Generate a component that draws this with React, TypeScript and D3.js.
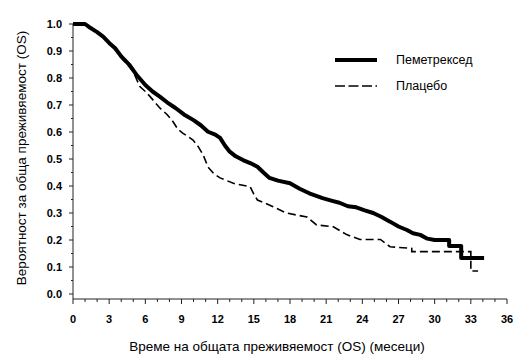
import React from "react"
import * as d3 from "d3"

const WIDTH = 517
const HEIGHT = 356

// axis ticks
const monthTicks = [0, 3, 6, 9, 12, 15, 18, 21, 24, 27, 30, 33, 36]
const survTicks = [0.0, 0.1, 0.2, 0.3, 0.4, 0.5, 0.6, 0.7, 0.8, 0.9, 1.0]

// Pemetrexed (solid), tail steps given explicitly
const pemTime = [0, 1.0, 1.3, 2.0, 2.5, 3.0, 3.5, 4.0, 4.7, 5.3, 6.0, 6.6, 7.2, 7.8, 8.5, 9.2, 10.0, 10.6, 11.2, 11.8, 12.2, 12.6, 13.0, 13.5, 14.1, 14.7, 15.3, 15.8, 16.3, 17.0, 18.0, 18.8, 19.6, 20.7, 21.5, 22.1, 22.8, 23.5, 24.2, 24.9, 25.6, 26.3, 27.0, 27.7, 28.2, 28.8, 29.4, 30.0, 31.2, 31.2, 32.2, 32.2, 34.1]
const pemSurv = [1.0, 1.0, 0.99, 0.97, 0.953, 0.93, 0.91, 0.88, 0.848, 0.81, 0.774, 0.75, 0.731, 0.71, 0.689, 0.665, 0.644, 0.625, 0.601, 0.59, 0.578, 0.55, 0.527, 0.51, 0.496, 0.485, 0.471, 0.45, 0.43, 0.42, 0.41, 0.39, 0.373, 0.355, 0.345, 0.338, 0.325, 0.321, 0.31, 0.3, 0.285, 0.268, 0.25, 0.237, 0.225, 0.219, 0.205, 0.2, 0.2, 0.178, 0.178, 0.133, 0.133]

// Placebo (dashed)
const plaTime = [0, 1.0, 1.3, 2.0, 2.5, 3.0, 3.5, 4.0, 4.7, 5.0, 5.55, 6.0, 6.4, 7.2, 7.8, 8.3, 8.7, 9.1, 9.96, 10.4, 10.8, 11.2, 11.7, 12.2, 13.3, 14.7, 15.0, 15.3, 16.0, 16.6, 17.7, 19.4, 20.2, 21.6, 22.7, 23.8, 25.5, 26.3, 28.1, 28.1, 33.0, 33.0, 33.6]
const plaSurv = [1.0, 1.0, 0.99, 0.97, 0.953, 0.93, 0.905, 0.875, 0.84, 0.823, 0.768, 0.75, 0.731, 0.689, 0.665, 0.638, 0.61, 0.596, 0.57, 0.545, 0.515, 0.47, 0.445, 0.43, 0.41, 0.397, 0.37, 0.348, 0.335, 0.323, 0.3, 0.285, 0.256, 0.249, 0.22, 0.202, 0.202, 0.175, 0.169, 0.157, 0.157, 0.085, 0.085]

const seriesNames = ["Пеметрексед", "Плацебо"]
const xTitle = "Време на общата преживяемост (OS) (месеци)"
const yTitle = "Вероятност за обща преживяемост (OS)"

const FONT = "'Liberation Sans', Arial, sans-serif"

export default function App() {
	const x = d3.scaleLinear().domain([0, 36]).range([73, 507])
	const y = d3.scaleLinear().domain([0, 1]).range([294, 24])
	const axisY = 299

	const line = d3
		.line<[number, number]>()
		.x((d) => x(d[0]))
		.y((d) => y(d[1]))
		.curve(d3.curveLinear)

	const pem = pemTime.map((t, i) => [t, pemSurv[i]] as [number, number])
	const pla = plaTime.map((t, i) => [t, plaSurv[i]] as [number, number])

	const minorMonths = d3.range(0, 37, 1)
	const minorSurv = d3.range(0, 1.0001, 0.05)

	return (
		<svg
			width={WIDTH}
			height={HEIGHT}
			style={{ position: "absolute", left: 0, top: 0, background: "#fff" }}
			fontFamily={FONT}
		>
			{/* y axis */}
			<line x1={x(0)} x2={x(0)} y1={y(1)} y2={axisY} stroke="#222" strokeWidth={1} />
			{minorSurv.map((v, i) => (
				<line key={"ym" + i} x1={x(0) - (i % 2 === 0 ? 4 : 2)} x2={x(0)} y1={y(v)} y2={y(v)} stroke="#222" strokeWidth={1} />
			))}
			{survTicks.map((v) => (
				<text key={"yl" + v} x={62} y={y(v)} dy="0.35em" textAnchor="end" fontSize={11} fontWeight="bold">
					{v.toFixed(1)}
				</text>
			))}

			{/* x axis */}
			<line x1={x(0)} x2={x(36)} y1={axisY} y2={axisY} stroke="#222" strokeWidth={1} />
			{minorMonths.map((m) => (
				<line key={"xm" + m} x1={x(m)} x2={x(m)} y1={axisY} y2={axisY + (m % 3 === 0 ? 5 : 3)} stroke="#222" strokeWidth={1} />
			))}
			{monthTicks.map((m) => (
				<text key={"xl" + m} x={x(m)} y={319} dy="0.35em" textAnchor="middle" fontSize={11} fontWeight="bold">
					{m}
				</text>
			))}

			{/* curves */}
			<path d={line(pla) || ""} fill="none" stroke="#000" strokeWidth={1.6} strokeDasharray="8,4" />
			<path d={line(pem) || ""} fill="none" stroke="#000" strokeWidth={4} strokeLinejoin="round" />

			{/* legend */}
			<line x1={335} x2={377} y1={60} y2={60} stroke="#000" strokeWidth={4} />
			<text x={396} y={60} dy="0.35em" fontSize={12.5}>{seriesNames[0]}</text>
			<line x1={335} x2={377} y1={86} y2={86} stroke="#000" strokeWidth={1.6} strokeDasharray="10,3.5" />
			<text x={396} y={86} dy="0.35em" fontSize={12.5}>{seriesNames[1]}</text>

			{/* titles */}
			<text x={277} y={346} dy="0.35em" textAnchor="middle" fontSize={13.5}>{xTitle}</text>
			<text transform={`translate(21,${158}) rotate(-90)`} dy="0.35em" textAnchor="middle" fontSize={13.5}>{yTitle}</text>
		</svg>
	)
}
